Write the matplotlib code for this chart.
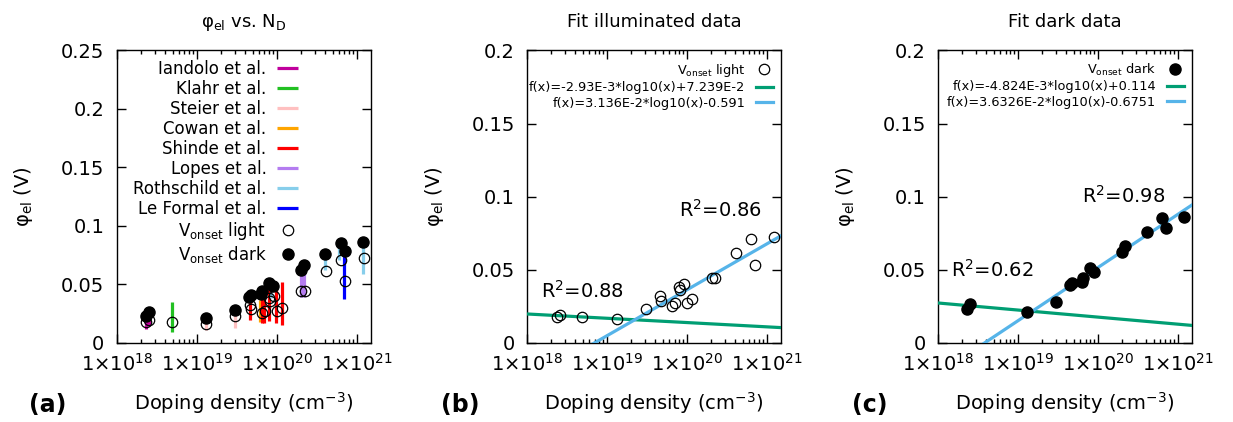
import numpy as np
import matplotlib.pyplot as plt
from matplotlib.ticker import LogLocator, FuncFormatter, MultipleLocator, NullFormatter

# onset potentials (doping density in cm^-3, phi_el in V)
light_nd = [2.32e18, 2.55e18, 4.9e18, 1.32e19, 3.05e19, 4.6e19, 4.8e19, 6.55e19, 7.1e19, 7.9e19,
            8.3e19, 9.2e19, 1.0e20, 1.17e20, 2.04e20, 2.27e20, 4.14e20, 6.3e20, 7.1e20, 1.22e21]
light_phi = [0.0178, 0.0190, 0.0174, 0.0160, 0.0229, 0.0322, 0.0288, 0.0251, 0.0270, 0.0380,
             0.0360, 0.0402, 0.0274, 0.0297, 0.0445, 0.0441, 0.0616, 0.0708, 0.0530, 0.0726]

dark_nd = [2.29e18, 2.51e18, 1.29e19, 2.99e19, 4.47e19, 4.79e19, 6.31e19, 6.46e19, 7.94e19, 8.91e19,
           2.0e20, 2.2e20, 4.07e20, 6.31e20, 7.08e20, 1.2e21]
dark_phi = [0.0231, 0.0263, 0.0212, 0.0281, 0.0395, 0.0407, 0.0414, 0.0441, 0.0514, 0.0482,
            0.0623, 0.0664, 0.0760, 0.0856, 0.0788, 0.0859]

# literature ranges: doping, lower and upper phi_el
iandolo_nd, iandolo_lo, iandolo_hi = [2.3e18, 2.5e18], [0.012, 0.014], [0.020, 0.021]
klahr_nd, klahr_lo, klahr_hi = [4.9e18], [0.0089], [0.0345]
steier_nd, steier_lo, steier_hi = [1.29e19, 3.0e19], [0.011, 0.0123], [0.021, 0.0265]
cowan_nd, cowan_lo, cowan_hi = [6.2e19], [0.018], [0.0365]
shinde_nd = [4.68e19, 6.46e19, 7.0e19, 7.94e19, 9.77e19, 1.15e20]
shinde_lo = [0.0194, 0.0166, 0.017, 0.0185, 0.0166, 0.015]
shinde_hi = [0.0407, 0.038, 0.0396, 0.0478, 0.0507, 0.052]
lopes_nd, lopes_lo, lopes_hi = [2.0e20, 2.2e20], [0.039, 0.039], [0.0635, 0.066]
roth_nd = [8.6e19, 4.0e20, 6.0e20, 1.19e21]
roth_lo = [0.038, 0.062, 0.0707, 0.059]
roth_hi = [0.0436, 0.072, 0.082, 0.085]
leformal_nd, leformal_lo, leformal_hi = [6.9e20], [0.037], [0.075]

studies = [
    ('Iandolo et al.', '#c0009c', iandolo_nd, iandolo_lo, iandolo_hi),
    ('Klahr et al.', '#22c022', klahr_nd, klahr_lo, klahr_hi),
    ('Steier et al.', '#ffc0c0', steier_nd, steier_lo, steier_hi),
    ('Cowan et al.', '#ffa500', cowan_nd, cowan_lo, cowan_hi),
    ('Shinde et al.', '#ff0000', shinde_nd, shinde_lo, shinde_hi),
    ('Lopes et al.', '#b47cf0', lopes_nd, lopes_lo, lopes_hi),
    ('Rothschild et al.', '#87ceeb', roth_nd, roth_lo, roth_hi),
    ('Le Formal et al.', '#0000ff', leformal_nd, leformal_lo, leformal_hi),
]

# fit coefficients (slope, intercept) from the legends
light_fit_low = (-2.93e-3, 7.239e-2)
light_fit_high = (3.136e-2, -0.591)
dark_fit_low = (-4.824e-3, 0.114)
dark_fit_high = (3.6326e-2, -0.6751)

XMIN, XMAX = 1e18, 1.5e21
GREEN = '#009e73'
BLUE = '#56b4e9'

plt.rcParams['font.family'] = 'DejaVu Sans'
plt.rcParams['mathtext.default'] = 'regular'

fig = plt.figure(figsize=(12.33, 4.22), dpi=100)
ax_a = fig.add_axes([0.0947, 0.1879, 0.2060, 0.6925])
ax_b = fig.add_axes([0.4277, 0.1879, 0.2055, 0.6925])
ax_c = fig.add_axes([0.7610, 0.1879, 0.2055, 0.6925])


def style_axes(ax, ymax):
    ax.set_xscale('log')
    ax.set_xlim(XMIN, XMAX)
    ax.set_ylim(0, ymax)
    ax.xaxis.set_major_locator(LogLocator(base=10, numticks=10))
    ax.xaxis.set_minor_locator(LogLocator(base=10, subs=np.arange(2, 10), numticks=20))
    ax.xaxis.set_minor_formatter(NullFormatter())
    ax.xaxis.set_major_formatter(FuncFormatter(lambda v, p: '1×10$^{%d}$' % round(np.log10(v))))
    ax.yaxis.set_major_locator(MultipleLocator(0.05))
    ax.yaxis.set_major_formatter(FuncFormatter(lambda v, p: '%g' % round(v, 3)))
    ax.tick_params(which='both', direction='in', top=True, right=True, labelsize=14, width=1)
    ax.tick_params(which='major', length=6.5)
    ax.tick_params(which='minor', length=3)
    ax.tick_params(axis='y', pad=9)
    ax.tick_params(axis='x', pad=7)
    for s in ax.spines.values():
        s.set_linewidth(1)
    ax.set_xlabel('Doping density (cm$^{-3}$)', fontsize=14)
    ax.xaxis.set_label_coords(0.5, -0.163)
    ax.set_ylabel('φ$_{el}$ (V)', fontsize=14)
    ax.yaxis.set_label_coords(-0.322, 0.5)


# (a) literature comparison
style_axes(ax_a, 0.25)
for name, col, nd, lo, hi in studies:
    ax_a.vlines(nd, lo, hi, colors=col, lw=2.3, label=name, zorder=2)
ax_a.plot(light_nd, light_phi, 'o', mfc='none', mec='k', ms=7.5, mew=0.9,
          label='V$_{onset}$ light', zorder=3)
ax_a.plot(dark_nd, dark_phi, 'o', color='k', ms=8, label='V$_{onset}$ dark', zorder=4)
ax_a.set_title('φ$_{el}$ vs. N$_{D}$', fontsize=13, pad=17)
ax_a.legend(loc='upper right', bbox_to_anchor=(0.714, 0.968), frameon=False, markerfirst=False,
            fontsize=12, handlelength=1.25, handletextpad=0.65, labelspacing=0.12,
            borderpad=0, borderaxespad=0, numpoints=1)

# (b) and (c) fits
xfit = np.logspace(np.log10(XMIN), np.log10(XMAX), 300)
panels = [
    (ax_b, 'Fit illuminated data', light_nd, light_phi, False, 'V$_{onset}$ light',
     light_fit_low, light_fit_high,
     ['f(x)=-2.93E-3*log10(x)+7.239E-2', 'f(x)=3.136E-2*log10(x)-0.591'],
     [(1.47e18, 0.0304, 'R$^2$=0.88'), (7.9e19, 0.0863, 'R$^2$=0.86')]),
    (ax_c, 'Fit dark data', dark_nd, dark_phi, True, 'V$_{onset}$ dark',
     dark_fit_low, dark_fit_high,
     ['f(x)=-4.824E-3*log10(x)+0.114', 'f(x)=3.6326E-2*log10(x)-0.6751'],
     [(1.44e18, 0.0448, 'R$^2$=0.62'), (6.25e19, 0.0955, 'R$^2$=0.98')]),
]
for ax, title, nd, phi, filled, lab, fit_lo, fit_hi, fit_labels, r2 in panels:
    style_axes(ax, 0.2)
    if filled:
        ax.plot(nd, phi, 'o', color='k', ms=8, label=lab, zorder=4)
    else:
        ax.plot(nd, phi, 'o', mfc='none', mec='k', ms=7.5, mew=0.9, label=lab, zorder=4)
    ax.plot(xfit, fit_lo[0] * np.log10(xfit) + fit_lo[1], color=GREEN, lw=2.3, label=fit_labels[0], zorder=3)
    ax.plot(xfit, fit_hi[0] * np.log10(xfit) + fit_hi[1], color=BLUE, lw=2.3, label=fit_labels[1], zorder=3)
    for x, y, t in r2:
        ax.text(x, y, t, fontsize=14, va='baseline', ha='left')
    ax.set_title(title, fontsize=13, pad=17)
    ax.legend(loc='upper right', bbox_to_anchor=(0.97, 0.962), frameon=False, markerfirst=False,
              fontsize=9.3, handlelength=1.35, handletextpad=0.8, labelspacing=0.2,
              borderpad=0, borderaxespad=0, numpoints=1)

for lab, xp in [('(a)', 48), ('(b)', 460), ('(c)', 870)]:
    fig.text(xp / 1233, 1 - 405 / 422, lab, fontsize=17, fontweight='bold', ha='center', va='center')

fig.savefig('out.png', dpi=100, facecolor='white')
